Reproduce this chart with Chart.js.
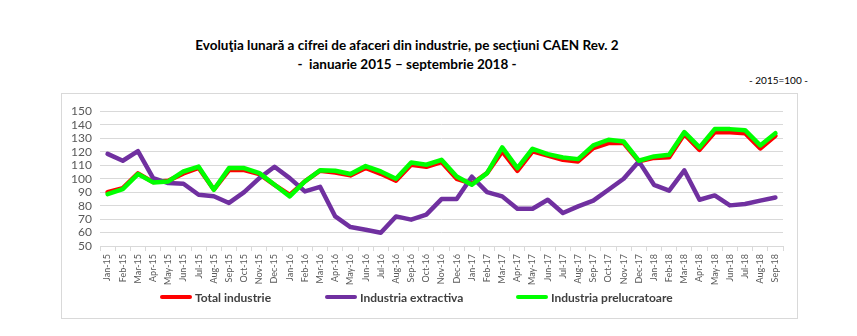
<!DOCTYPE html>
<html>
<head>
<meta charset="utf-8">
<script src="https://cdn.jsdelivr.net/npm/chart.js@4.4.0/dist/chart.umd.min.js"></script>
<style>
  html, body { margin: 0; padding: 0; background: #fff; }
  #wrap { position: relative; width: 857px; height: 336px; overflow: hidden; font-family: Lato, "Liberation Sans", sans-serif; }
  .title { position: absolute; left: 0; width: 814px; text-align: center; font-weight: bold; font-size: 13.5px; color: #000; }
  #t1 { top: 37px; }
  #t2 { top: 56px; }
  #note { position: absolute; right: 49px; top: 74px; font-size: 10px; color: #000; }
  #frame { position: absolute; left: 61px; top: 93px; width: 735px; height: 224px; border: 1px solid #D9D9D9; }
  canvas { position: absolute; left: 0; top: 0; }
</style>
</head>
<body>
<div id="wrap">
  <div class="title" id="t1">Evoluţia lunară a cifrei de afaceri din industrie, pe secţiuni CAEN Rev. 2</div>
  <div class="title" id="t2">-&nbsp; ianuarie 2015 – septembrie 2018 -</div>
  <div id="note">- 2015=100 -</div>
  <div id="frame"></div>
  <canvas id="chart" width="857" height="336"></canvas>
</div>
<script>
// luni (categorii)
const months = [
  "Jan-15", "Feb-15", "Mar-15", "Apr-15", "May-15", "Jun-15", "Jul-15", "Aug-15", "Sep-15", "Oct-15", "Nov-15", "Dec-15",
  "Jan-16", "Feb-16", "Mar-16", "Apr-16", "May-16", "Jun-16", "Jul-16", "Aug-16", "Sep-16", "Oct-16", "Nov-16", "Dec-16",
  "Jan-17", "Feb-17", "Mar-17", "Apr-17", "May-17", "Jun-17", "Jul-17", "Aug-17", "Sep-17", "Oct-17", "Nov-17", "Dec-17",
  "Jan-18", "Feb-18", "Mar-18", "Apr-18", "May-18", "Jun-18", "Jul-18", "Aug-18", "Sep-18"
];

const totalIndustrie = [
  90, 93, 104, 97.5, 98.5, 104, 108, 92, 106.5, 106.5, 103.5, 95.5,
  88, 98, 106, 104.7, 102.5, 108, 103.7, 98.5, 110.4, 108.9, 112.4, 100,
  96.3, 104.2, 120.3, 105.9, 120.3, 117.3, 114.1, 112.9, 122.8, 126.5, 126.5, 112.9,
  115.5, 116, 133.2, 121.5, 134.5, 134.5, 133.9, 122.5, 132
];

const industriaExtractiva = [
  118.5, 113.4, 120.5, 100.5, 96.8, 96.3, 88.1, 87, 82, 90, 100.5, 108.9,
  100.5, 90.6, 94, 72, 64.1, 62.1, 59.8, 72, 69.6, 73.3, 84.9, 84.9,
  101.5, 90.1, 86.9, 77.7, 77.7, 84.4, 74.5, 79.5, 83.7, 91.8, 100, 112.9,
  95.5, 91.1, 106.2, 84.4, 87.6, 80.2, 81.2, 83.7, 86.1
];

const industriaPrelucratoare = [
  88.6, 92.3, 103.5, 97.3, 98, 105.4, 109, 91.8, 107.9, 107.9, 104.2, 95.5,
  86.9, 98, 106.3, 106, 103.5, 109.4, 105.4, 100, 112.1, 110.4, 114.1, 101.7,
  95.5, 104.2, 123.3, 107.9, 122.3, 118.3, 115.8, 114.6, 124.8, 129, 127.7, 113.4,
  116.6, 117.8, 134.7, 123.3, 136.9, 136.9, 136.1, 124.8, 133.9
];

const yMin = 50, yMax = 150, yStep = 10;

const fontFam = 'Lato, "Liberation Sans", sans-serif';
Chart.defaults.font.family = fontFam;

// x of each legend swatch
const legendX = [160, 325, 516];
const legendY = 297;

const legendPlugin = {
  id: "legendLinii",
  afterDraw(chart) {
    const c = chart.ctx;
    c.save();
    chart.data.datasets.forEach((ds, i) => {
      const x = legendX[i];
      c.strokeStyle = ds.borderColor;
      c.lineWidth = 4;
      c.lineCap = "round";
      c.beginPath();
      c.moveTo(x + 2, legendY);
      c.lineTo(x + 30, legendY);
      c.stroke();
      c.fillStyle = "#404040";
      c.font = "bold 12px " + fontFam;
      c.textBaseline = "middle";
      c.fillText(ds.label, x + 35, legendY + 1);
    });
    c.restore();
  }
};

function serie(label, data, color, order) {
  return {
    label: label,
    data: data,
    borderColor: color,
    backgroundColor: color,
    borderWidth: 4.5,
    pointRadius: 0,
    tension: 0,
    borderJoinStyle: "round",
    borderCapStyle: "round",
    order: order
  };
}

new Chart(document.getElementById("chart"), {
  type: "line",
  data: {
    labels: months,
    datasets: [
      serie("Total industrie", totalIndustrie, "#FF0000", 2),
      serie("Industria extractiva", industriaExtractiva, "#7030A0", 1),
      serie("Industria prelucratoare", industriaPrelucratoare, "#00FF00", 0)
    ]
  },
  options: {
    responsive: false,
    animation: false,
    layout: { padding: { left: 60, right: 74, top: 111.5, bottom: 45 } },
    plugins: { legend: { display: false }, tooltip: { enabled: false } },
    scales: {
      x: {
        offset: true,
        grid: { offset: true, drawOnChartArea: false, tickLength: 5, color: "#D9D9D9" },
        border: { color: "#D9D9D9" },
        ticks: { minRotation: 90, maxRotation: 90, autoSkip: false, padding: 3, color: "#595959", font: { size: 9 } },
        afterFit: (s) => { s.height = 45; }
      },
      y: {
        min: yMin,
        max: yMax,
        ticks: { stepSize: yStep, autoSkip: false, padding: 8, color: "#595959", font: { size: 12 } },
        grid: { color: "#D9D9D9", drawTicks: false },
        border: { display: false },
        afterFit: (s) => { s.width = 40; }
      }
    }
  },
  plugins: [legendPlugin]
});
</script>
</body>
</html>
